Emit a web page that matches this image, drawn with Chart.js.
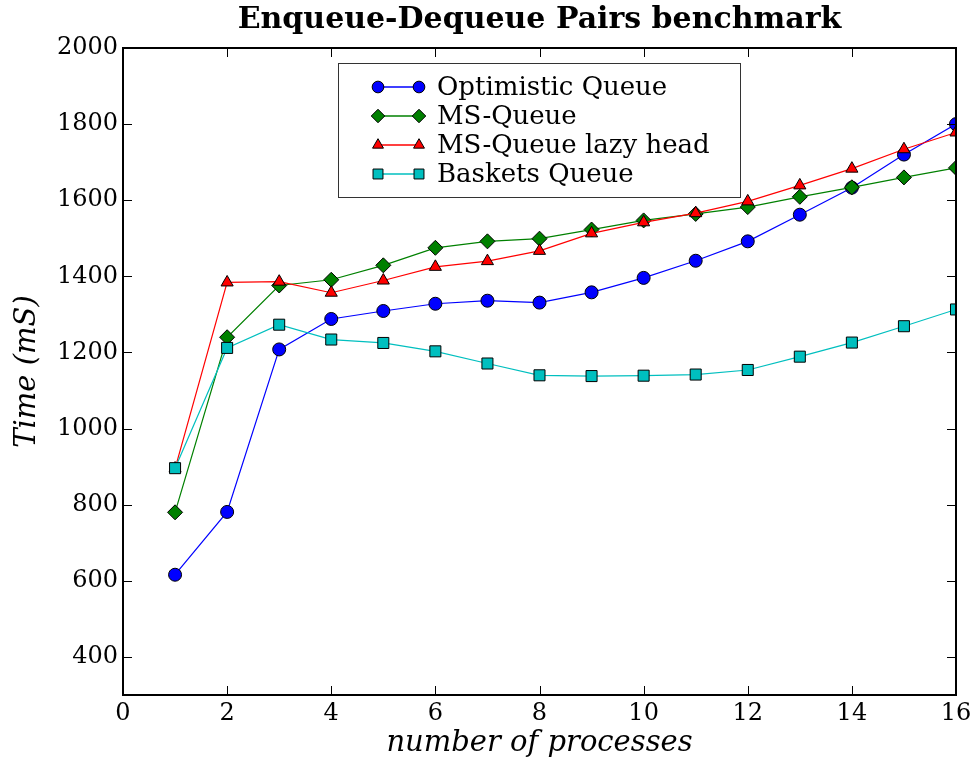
<!DOCTYPE html>
<html>
<head>
<meta charset="utf-8">
<script src="https://cdn.jsdelivr.net/npm/chart.js@4/dist/chart.umd.min.js"></script>
<style>
  html, body { margin: 0; padding: 0; background: #fff; }
  #wrap { width: 977px; height: 761px; }
</style>
</head>
<body>
<div id="wrap"><canvas id="myChart" width="977" height="761"></canvas></div>
<script>
// data
var processes = [1, 2, 3, 4, 5, 6, 7, 8, 9, 10, 11, 12, 13, 14, 15, 16];
var optimisticQueue = [616, 781, 1208, 1288, 1309, 1328, 1336, 1331, 1358, 1396, 1441, 1492, 1562, 1633, 1720, 1800];
var msQueue = [780, 1240, 1376, 1391, 1429, 1475, 1492, 1499, 1523, 1547, 1564, 1582, 1609, 1634, 1660, 1685];
var msQueueLazyHead = [895, 1384, 1386, 1357, 1389, 1425, 1440, 1467, 1513, 1542, 1566, 1597, 1639, 1683, 1734, 1778];
var basketsQueue = [896, 1212, 1273, 1234, 1225, 1203, 1171, 1140, 1138, 1139, 1142, 1154, 1189, 1226, 1269, 1313];
var seriesNames = ['Optimistic Queue', 'MS-Queue', 'MS-Queue lazy head', 'Baskets Queue'];
var xTicks = [0, 2, 4, 6, 8, 10, 12, 14, 16];
var yTicks = [400, 600, 800, 1000, 1200, 1400, 1600, 1800, 2000];

var serif = '"DejaVu Serif", "Liberation Serif", serif';

function points(values) {
    return processes.map(function (p, i) { return { x: p, y: values[i] }; });
}

function makeSet(label, values, color, style, radius, order) {
    return {
        label: label,
        data: points(values),
        borderColor: color,
        backgroundColor: color,
        borderWidth: 1.2,
        pointStyle: style,
        pointRadius: radius,
        pointHoverRadius: radius,
        pointBackgroundColor: color,
        pointBorderColor: '#000',
        pointBorderWidth: 1,
        tension: 0,
        order: order
    };
}

var datasets = [
    makeSet(seriesNames[0], optimisticQueue, '#0000ff', 'circle', 6.5, 4),
    makeSet(seriesNames[1], msQueue, '#008000', 'rectRot', 7.5, 3),
    makeSet(seriesNames[2], msQueueLazyHead, '#ff0000', 'triangle', 7, 2),
    makeSet(seriesNames[3], basketsQueue, '#00bfbf', 'rect', 7.8, 1)
];

// matplotlib style frame, inward ticks and a legend box inside the axes
var framePlugin = {
    id: 'frame',
    afterDatasetsDraw: function (chart) {
        var ctx = chart.ctx;
        var a = chart.chartArea;
        var xs = chart.scales.x;
        var ys = chart.scales.y;
        var tl = 9;

        ctx.save();
        ctx.strokeStyle = '#000';
        ctx.lineWidth = 1;
        ctx.beginPath();
        xs.ticks.forEach(function (t) {
            var px = Math.round(xs.getPixelForValue(t.value)) + 0.5;
            ctx.moveTo(px, a.bottom); ctx.lineTo(px, a.bottom - tl);
            ctx.moveTo(px, a.top); ctx.lineTo(px, a.top + tl);
        });
        ys.ticks.forEach(function (t) {
            var py = Math.round(ys.getPixelForValue(t.value)) + 0.5;
            ctx.moveTo(a.left, py); ctx.lineTo(a.left + tl, py);
            ctx.moveTo(a.right, py); ctx.lineTo(a.right - tl, py);
        });
        ctx.stroke();

        ctx.lineWidth = 2;
        ctx.strokeRect(a.left, a.top, a.right - a.left, a.bottom - a.top);

        // legend
        var bx = a.left + 215, by = a.top + 15, bw = 402, bh = 134;
        ctx.fillStyle = '#fff';
        ctx.fillRect(bx, by, bw, bh);
        ctx.lineWidth = 1;
        ctx.strokeStyle = '#333';
        ctx.strokeRect(bx + 0.5, by + 0.5, bw, bh);

        ctx.font = '26px ' + serif;
        ctx.textBaseline = 'middle';
        chart.data.datasets.forEach(function (ds, i) {
            var ly = by + 24 + i * 29;
            var x1 = bx + 40, x2 = bx + 81;
            ctx.strokeStyle = ds.borderColor;
            ctx.lineWidth = 1.6;
            ctx.beginPath();
            ctx.moveTo(x1, ly); ctx.lineTo(x2, ly);
            ctx.stroke();
            ctx.fillStyle = ds.pointBackgroundColor;
            ctx.strokeStyle = '#000';
            ctx.lineWidth = 1;
            var opts = { pointStyle: ds.pointStyle, radius: ds.pointRadius * 0.9, rotation: 0, borderWidth: 1 };
            Chart.helpers.drawPoint(ctx, opts, x1, ly);
            Chart.helpers.drawPoint(ctx, opts, x2, ly);
            ctx.fillStyle = '#000';
            ctx.fillText(ds.label, bx + 99, ly + 1);
        });
        ctx.restore();
    }
};

var ctx = document.getElementById('myChart').getContext('2d');
var myChart = new Chart(ctx, {
    type: 'line',
    data: { datasets: datasets },
    options: {
        responsive: false,
        animation: false,
        layout: { padding: { left: 0, right: 21, top: 0, bottom: 0 } },
        plugins: {
            legend: { display: false },
            tooltip: { enabled: false },
            title: {
                display: true,
                fullSize: false,
                text: 'Enqueue-Dequeue Pairs benchmark',
                color: '#000',
                font: { family: serif, size: 30, weight: 'bold', lineHeight: 1.2 },
                padding: { top: 2, bottom: 10 }
            }
        },
        scales: {
            x: {
                type: 'linear',
                min: 0,
                max: 16,
                afterBuildTicks: function (scale) {
                    scale.ticks = xTicks.map(function (v) { return { value: v }; });
                },
                afterFit: function (scale) { scale.height = 66; },
                grid: { display: false, drawTicks: false },
                border: { display: false },
                ticks: {
                    color: '#000',
                    padding: 4,
                    maxRotation: 0,
                    font: { family: serif, size: 24 },
                    callback: function (v) { return String(v); }
                },
                title: {
                    display: true,
                    text: 'number of processes',
                    color: '#000',
                    font: { family: serif, size: 29, style: 'italic', lineHeight: 1.2 },
                    padding: { top: 2, bottom: 0 }
                }
            },
            y: {
                type: 'linear',
                min: 300,
                max: 2000,
                afterBuildTicks: function (scale) {
                    scale.ticks = yTicks.map(function (v) { return { value: v }; });
                },
                afterFit: function (scale) { scale.width = 123; },
                grid: { display: false, drawTicks: false },
                border: { display: false },
                ticks: {
                    color: '#000',
                    padding: 5,
                    font: { family: serif, size: 24 },
                    callback: function (v) { return String(v); }
                },
                title: {
                    display: true,
                    text: 'Time (mS)',
                    color: '#000',
                    font: { family: serif, size: 29, style: 'italic', lineHeight: 1.2 },
                    padding: { top: 10, bottom: 0 }
                }
            }
        }
    },
    plugins: [framePlugin]
});
</script>
</body>
</html>
